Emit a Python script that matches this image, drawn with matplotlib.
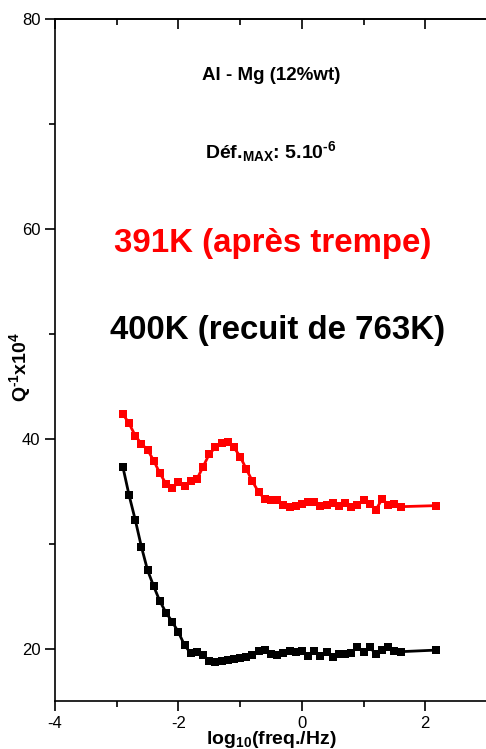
import numpy as np
import matplotlib
matplotlib.use("Agg")
import matplotlib.pyplot as plt
from matplotlib.ticker import MultipleLocator

plt.rcParams['font.family'] = ['Liberation Sans', 'DejaVu Sans']
plt.rcParams['mathtext.fontset'] = 'custom'
plt.rcParams['mathtext.rm'] = 'Liberation Sans:bold'
plt.rcParams['mathtext.it'] = 'Liberation Sans:bold'
plt.rcParams['mathtext.bf'] = 'Liberation Sans:bold'
plt.rcParams['mathtext.default'] = 'rm'
plt.rcParams['axes.unicode_minus'] = False

# log10(freq/Hz) grid: -2.9 .. 1.6 step 0.1, plus a final point
log_freq = [-2.9, -2.8, -2.7, -2.6, -2.5, -2.4, -2.3, -2.2, -2.1, -2.0,
            -1.9, -1.8, -1.7, -1.6, -1.5, -1.4, -1.3, -1.2, -1.1, -1.0,
            -0.9, -0.8, -0.7, -0.6, -0.5, -0.4, -0.3, -0.2, -0.1, 0.0,
            0.1, 0.2, 0.3, 0.4, 0.5, 0.6, 0.7, 0.8, 0.9, 1.0,
            1.1, 1.2, 1.3, 1.4, 1.5, 1.6, 2.17]

q_quenched_391K = [42.35, 41.46, 40.29, 39.50, 38.95, 37.90, 36.70, 35.69, 35.30, 35.84,
                   35.46, 36.00, 36.16, 37.33, 38.54, 39.17, 39.55, 39.69, 39.17, 38.29,
                   37.11, 35.93, 34.89, 34.26, 34.19, 34.19, 33.71, 33.46, 33.62, 33.78,
                   34.00, 33.93, 33.62, 33.71, 33.84, 33.62, 33.84, 33.50, 33.71, 34.16,
                   33.78, 33.21, 34.26, 33.71, 33.78, 33.52, 33.62]

q_annealed_400K = [37.30, 34.62, 32.27, 29.70, 27.46, 25.92, 24.50, 23.41, 22.55, 21.55,
                   20.31, 19.55, 19.65, 19.40, 18.79, 18.70, 18.79, 18.92, 19.02, 19.11,
                   19.17, 19.43, 19.81, 19.88, 19.50, 19.43, 19.55, 19.74, 19.65, 19.75,
                   19.25, 19.75, 19.25, 19.70, 19.15, 19.45, 19.50, 19.60, 20.15, 19.70,
                   20.10, 19.50, 19.85, 20.15, 19.80, 19.70, 19.85]

x_ticks = [-4, -2, 0, 2]
y_ticks = [20, 40, 60, 80]

fig = plt.figure(figsize=(4.86, 7.49), dpi=100)
ax = fig.add_axes([0.1132, 0.0641, 0.8888, 0.9105])

ax.plot(log_freq, q_annealed_400K, color='black', marker='s', markersize=6,
        linewidth=2, markeredgewidth=0)
ax.plot(log_freq, q_quenched_391K, color='red', marker='s', markersize=6.3,
        linewidth=2, markeredgewidth=0)

ax.set_xlim(-4, 3)
ax.set_ylim(15, 80)
ax.set_xticks(x_ticks)
ax.set_yticks(y_ticks)
ax.xaxis.set_minor_locator(MultipleLocator(1))
ax.yaxis.set_minor_locator(MultipleLocator(10))
ax.tick_params(which='major', direction='out', length=7, width=1.2, labelsize=12)
ax.tick_params(which='minor', direction='out', length=4, width=1.2)
for s in ax.spines.values():
    s.set_linewidth(1.2)

top = ax.secondary_xaxis('top')
top.set_xticks(x_ticks)
top.xaxis.set_minor_locator(MultipleLocator(1))
top.tick_params(which='major', direction='in', length=7, width=1.2, labeltop=False)
top.tick_params(which='minor', direction='in', length=4, width=1.2)
top.spines['top'].set_linewidth(1.2)

ax.set_xlabel(r'log$_{10}$(freq./Hz)', fontsize=14, fontweight='bold', labelpad=-1)
ax.set_ylabel('Q$^{\u2010\\mathregular{1}}$x10$^{4}$', fontsize=14, fontweight='bold')
ax.yaxis.set_label_coords(-0.052, 0.49)

ax.text(-0.5, 74.6, 'Al - Mg (12%wt)', fontsize=13.5, fontweight='bold',
        ha='center', va='center')
ax.text(-0.5, 67.4, 'Déf.$_{\\mathregular{MAX}}$: 5.10$^{\u2010\\mathregular{6}}$', fontsize=14,
        fontweight='bold', ha='center', va='center')
ax.text(-0.47, 58.6, '391K (après trempe)', fontsize=23.8, fontweight='bold',
        color='red', ha='center', va='center')
ax.text(-0.39, 50.3, '400K (recuit de 763K)', fontsize=23.8, fontweight='bold',
        color='black', ha='center', va='center')

fig.savefig('out.png', dpi=100)
